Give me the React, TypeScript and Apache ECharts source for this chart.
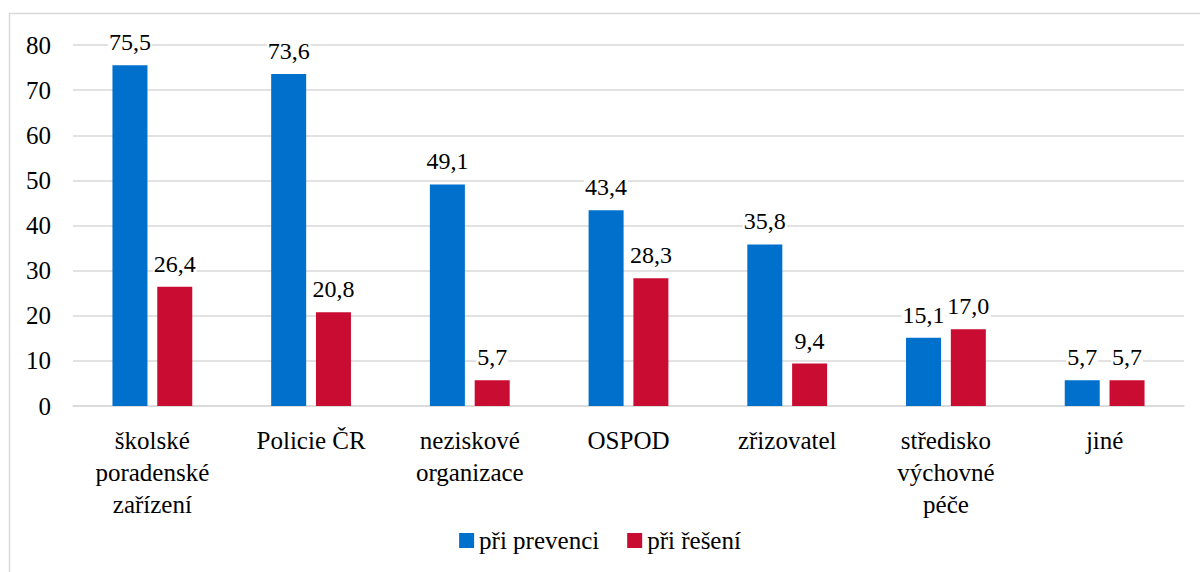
import React, { useEffect, useRef } from "react";
import * as echarts from "echarts";

const categories = [
  "školské\nporadenské\nzařízení",
  "Policie ČR",
  "neziskové\norganizace",
  "OSPOD",
  "zřizovatel",
  "středisko\nvýchovné\npéče",
  "jiné",
];
const prevence = [75.5, 73.6, 49.1, 43.4, 35.8, 15.1, 5.7];
const reseni = [26.4, 20.8, 5.7, 28.3, 9.4, 17.0, 5.7];
const seriesNames = ["při prevenci", "při řešení"];

const FONT = "Times New Roman";
const FS = 25;

export default function App() {
  const ref = useRef<HTMLDivElement>(null);
  useEffect(() => {
    if (!ref.current) return;
    const chart = echarts.init(ref.current, undefined, { renderer: "svg" });
    const label = {
      show: true,
      position: "top" as const,
      distance: 11,
      color: "#000",
      fontFamily: FONT,
      fontSize: 24,
      backgroundColor: "#fff",
      padding: [0, 1],
      formatter: (p: any) => p.value.toFixed(1).replace(".", ","),
    };
    chart.setOption({
      animation: false,
      graphic: [
        {
          type: "rect",
          shape: { x: 9.5, y: 13.5, width: 1250, height: 700 },
          style: { fill: "none", stroke: "#d9d9d9", lineWidth: 1.5 },
          silent: true,
        },
      ],
      grid: { left: 73, right: 16, top: 45, bottom: 166, containLabel: false },
      legend: {
        top: 523,
        left: "center",
        icon: "rect",
        itemWidth: 15,
        itemHeight: 15,
        itemGap: 28,
        textStyle: { fontFamily: FONT, fontSize: FS, color: "#000" },
        data: seriesNames,
      },
      xAxis: {
        type: "category",
        data: categories,
        axisLine: { show: true, lineStyle: { color: "#d9d9d9", width: 1.5 } },
        axisTick: { show: false },
        axisLabel: {
          interval: 0,
          margin: 18,
          color: "#000",
          fontFamily: FONT,
          fontSize: FS,
          lineHeight: 32,
        },
      },
      yAxis: {
        type: "value",
        min: 0,
        max: 80,
        interval: 10,
        axisLine: { show: false },
        axisTick: { show: false },
        splitLine: { lineStyle: { color: "#d9d9d9", width: 1.5 } },
        axisLabel: {
          margin: 22,
          color: "#000",
          fontFamily: FONT,
          fontSize: FS,
        },
      },
      series: [
        {
          name: seriesNames[0],
          type: "bar",
          data: prevence,
          barWidth: 35,
          barGap: "28%",
          itemStyle: { color: "#0070CD" },
          label,
        },
        {
          name: seriesNames[1],
          type: "bar",
          data: reseni,
          barWidth: 35,
          barGap: "28%",
          itemStyle: { color: "#C80C32" },
          label,
        },
      ],
    });
    return () => chart.dispose();
  }, []);
  return (
    <div
      ref={ref}
      style={{
        position: "fixed",
        left: 0,
        top: 0,
        width: 1200,
        height: 572,
        background: "#fff",
      }}
    />
  );
}
